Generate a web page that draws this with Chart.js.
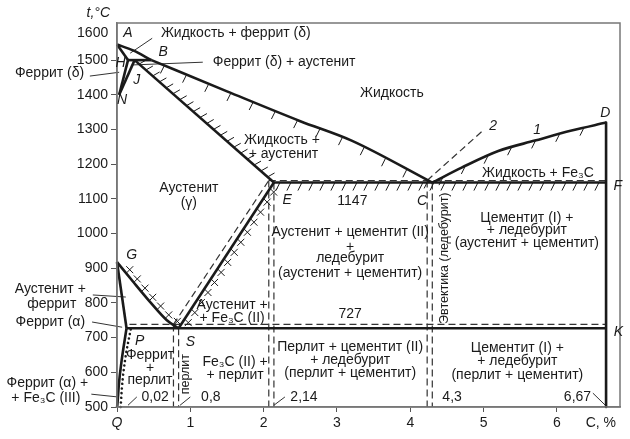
<!DOCTYPE html>
<html><head><meta charset="utf-8">
<script src="https://cdn.jsdelivr.net/npm/chart.js@4/dist/chart.umd.min.js"></script>
<style>html,body{margin:0;padding:0;background:#fff}</style>
</head><body>
<canvas id="c" width="630" height="439"></canvas>
<script>
// ---- axis ticks ----
const xTickValues = [0, 1, 2, 3, 4, 5, 6];
const xTickLabels = ['Q', '1', '2', '3', '4', '5', '6'];
const yTickValues = [500, 600, 700, 800, 900, 1000, 1100, 1200, 1300, 1400, 1500];

// ---- phase lines: [C, %  ,  t, °C] ----
const lineAB  = [[0, 1545], [0.22, 1528], [0.47, 1500]];
const lineBC  = [[0.47, 1500], [1.5, 1410], [2.5, 1324], [3.2, 1268], [4.3, 1147]];
const lineAH  = [[0, 1545], [0.15, 1500]];
const lineHB  = [[0.15, 1500], [0.47, 1500]];
const lineHN  = [[0.15, 1500], [0.03, 1400]];
const lineJN  = [[0.24, 1500], [0.03, 1400]];
const lineJE  = [[0.24, 1500], [2.14, 1147]];
const lineECF = [[2.14, 1147], [6.67, 1147]];
const lineCD  = [[4.3, 1147], [4.7, 1190], [5.2, 1238], [5.7, 1268], [6.2, 1297], [6.67, 1320]];
const lineDK  = [[6.67, 1320], [6.67, 500]];
const lineGS  = [[0, 918], [0.22, 861], [0.45, 803], [0.68, 750], [0.84, 727]];
const lineGP  = [[0, 918], [0.13, 727]];
const linePSK = [[0.13, 727], [6.67, 727]];
const lineSE  = [[0.84, 727], [2.14, 1147]];
const linePQ  = [[0, 500], [0.004, 505], [0.027, 569], [0.064, 635], [0.13, 727]];
const dotsPQ  = [[0.05, 500], [0.068, 558], [0.11, 635], [0.19, 727]];

// ---- dashed lines (stable Fe–graphite system) ----
const dashSE  = [[0.77, 738], [2.07, 1153]];
const dashPK  = [[0.17, 738], [6.67, 738]];
const dashEF  = [[2.07, 1153], [6.67, 1153]];
const dashCD2 = [[4.23, 1153], [4.98, 1295]];
const dashVertC   = [0.77, 0.84, 2.07, 2.14, 4.23, 4.3];
const dashVertTop = [738, 727, 1153, 1147, 1153, 1147];

// ---- leader lines ----
const leaders = [
  [[0.48, 1563], [0.18, 1520]],
  [[1.17, 1494], [0.2, 1486]],
  [[-0.37, 1454], [0.03, 1465]],
  [[-0.33, 823], [0.12, 817]],
  [[-0.34, 745], [0.07, 730]],
  [[-0.35, 537], [0.01, 529]],
  [[0.15, 505], [0.27, 529]],
  [[0.86, 505], [1.0, 529]],
  [[2.14, 505], [2.29, 529]],
  [[6.49, 540], [6.66, 505]]
];

// ---- texts: [text, C %, t °C, kind] ----
const texts = [
  ['1600', -0.12, 1578, 'tickR'],
  ['Жидкость + феррит (δ)', 1.62, 1578],
  ['Феррит (δ) + аустенит', 2.28, 1494],
  ['Феррит (δ)', -0.92, 1463],
  ['Жидкость', 3.75, 1405],
  ['Жидкость +', 2.25, 1269],
  ['+ аустенит', 2.27, 1229],
  ['Аустенит', 0.98, 1131],
  ['(γ)', 0.98, 1088],
  ['1147', 3.21, 1094],
  ['Жидкость + Fe₃C', 5.74, 1174],
  ['Цементит (I) +', 5.59, 1045],
  ['+ ледебурит', 5.59, 1010],
  ['(аустенит + цементит)', 5.59, 973],
  ['Аустенит + цементит (II)', 3.18, 1004],
  ['+', 3.18, 961],
  ['ледебурит', 3.18, 929],
  ['(аустенит + цементит)', 3.18, 886],
  ['Эвтектика (ледебурит)', 4.47, 929, 'rot'],
  ['727', 3.18, 768],
  ['Перлит + цементит (II)', 3.18, 673],
  ['+ ледебурит', 3.18, 635],
  ['(перлит + цементит)', 3.18, 598],
  ['Цементит (I) +', 5.46, 670],
  ['+ ледебурит', 5.46, 633],
  ['(перлит + цементит)', 5.46, 592],
  ['Fe₃C (II) +', 1.61, 630],
  ['+ перлит', 1.61, 592],
  ['Аустенит +', 1.57, 794],
  ['+ Fe₃C (II)', 1.57, 756],
  ['Феррит', 0.45, 650],
  ['+', 0.45, 612],
  ['перлит', 0.45, 578],
  ['перлит', 0.94, 595, 'rot'],
  ['0,02', 0.52, 529],
  ['0,8', 1.28, 529],
  ['2,14', 2.55, 529],
  ['4,3', 4.57, 529],
  ['6,67', 6.28, 529],
  ['Аустенит +', -0.91, 840],
  ['феррит', -0.89, 797],
  ['Феррит (α)', -0.91, 745],
  ['Феррит (α) +', -0.95, 569],
  ['+ Fe₃C (III)', -0.97, 526],
  ['A', 0.15, 1578, 'it'],
  ['B', 0.63, 1523, 'it'],
  ['H', 0.05, 1491, 'it'],
  ['J', 0.27, 1442, 'it'],
  ['N', 0.07, 1385, 'it'],
  ['E', 2.32, 1097, 'it'],
  ['C', 4.16, 1094, 'it'],
  ['F', 6.83, 1137, 'it'],
  ['D', 6.66, 1347, 'it'],
  ['K', 6.84, 716, 'it'],
  ['G', 0.2, 938, 'it'],
  ['P', 0.31, 690, 'it'],
  ['S', 1.0, 687, 'it'],
  ['1', 5.73, 1298, 'it'],
  ['2', 5.13, 1310, 'it']
];

// ---- build datasets ----
const FAM = "'Liberation Sans', Arial, Helvetica, sans-serif";
const INK = '#1a1a1a';
const toXY = arr => arr.map(p => ({ x: p[0], y: p[1] }));
const ds = [];
function add(pts, o) {
  ds.push(Object.assign({ data: toXY(pts), showLine: true, pointRadius: 0, borderColor: INK,
    borderWidth: 2.6, fill: false, clip: false, borderCapStyle: 'butt', borderJoinStyle: 'round' }, o || {}));
}
const solidStraight = [lineAH, lineHB, lineHN, lineJN, lineJE, lineECF, lineDK, lineGP, linePSK, lineSE];
solidStraight.forEach(l => add(l));
[lineAB, lineBC, lineCD, lineGS, linePQ].forEach(l => add(l, { cubicInterpolationMode: 'monotone' }));
add(dotsPQ, { borderWidth: 2.6, borderDash: [0.01, 4.6], borderCapStyle: 'round', cubicInterpolationMode: 'monotone' });
const dashStyle = { borderWidth: 1.2, borderDash: [7, 4], borderColor: '#333' };
[dashSE, dashPK, dashEF, dashCD2].forEach(l => add(l, dashStyle));
dashVertC.forEach((c, i) => add([[c, dashVertTop[i]], [c, 500]], dashStyle));
leaders.forEach(l => add(l, { borderWidth: 1, borderColor: '#333' }));

// ---- decorations: hatching and crosses along lines ----
const hatches = [
  { line: lineBC, step: 24, start: 14, vec: [-4, 8] },
  { line: lineJE, step: 9, start: 6, vec: [7, -4] },
  { line: lineECF, step: 11, start: 6, vec: [-4, 8] },
  { line: lineCD, step: 25, start: 12, vec: [-4, 8] }
];
const crosses = [
  { line: lineGS, step: 12, start: 14, side: -1 },
  { line: lineSE, step: 12, start: 10, side: 1 }
];

function pixPts(chart, line) {
  const xs = chart.scales.x, ys = chart.scales.y;
  return line.map(p => [xs.getPixelForValue(p[0]), ys.getPixelForValue(p[1])]);
}
function walk(pts, start, step, cb) {
  let d = start;
  let acc = 0;
  for (let i = 0; i < pts.length - 1; i++) {
    const [x0, y0] = pts[i], [x1, y1] = pts[i + 1];
    const L = Math.hypot(x1 - x0, y1 - y0);
    while (d <= acc + L) {
      const t = (d - acc) / L;
      cb(x0 + (x1 - x0) * t, y0 + (y1 - y0) * t, (x1 - x0) / L, (y1 - y0) / L);
      d += step;
    }
    acc += L;
  }
}

const decor = {
  id: 'decor',
  afterDatasetsDraw(chart) {
    const c = chart.ctx, a = chart.chartArea, xs = chart.scales.x, ys = chart.scales.y;
    c.save();
    // frame
    c.strokeStyle = '#777'; c.lineWidth = 1.5;
    c.strokeRect(a.left, a.top, a.right - a.left, a.bottom - a.top);
    // hatches
    c.strokeStyle = INK; c.lineWidth = 1;
    hatches.forEach(h => {
      const pts = pixPts(chart, h.line);
      walk(pts, h.start, h.step, (x, y) => {
        c.beginPath(); c.moveTo(x, y); c.lineTo(x + h.vec[0], y + h.vec[1]); c.stroke();
      });
    });
    crosses.forEach(h => {
      const pts = pixPts(chart, h.line);
      walk(pts, h.start, h.step, (x, y, ux, uy) => {
        const nx = -uy * h.side * 5, ny = ux * h.side * 5;
        const cx = x + nx, cy = y + ny, r = 3.5;
        c.beginPath();
        c.moveTo(cx - r, cy - r); c.lineTo(cx + r, cy + r);
        c.moveTo(cx - r, cy + r); c.lineTo(cx + r, cy - r);
        c.stroke();
      });
    });
    // texts
    c.fillStyle = INK; c.textBaseline = 'middle';
    texts.forEach(t => {
      const [s, cx, ty, kind] = t;
      const px = xs.getPixelForValue(cx), py = ys.getPixelForValue(ty);
      c.font = (kind === 'it' ? 'italic ' : '') + (kind === 'rot' ? '12.5px ' : '14px ') + FAM;
      if (kind === 'rot') {
        c.save(); c.translate(px, py); c.rotate(-Math.PI / 2);
        c.textAlign = 'center'; c.fillText(s, 0, 0); c.restore();
      } else {
        c.textAlign = kind === 'tickR' ? 'right' : 'center';
        c.fillText(s, px, py);
      }
    });
    // axis titles
    c.font = 'italic 14px ' + FAM; c.textAlign = 'right';
    c.fillText('t,°C', a.left - 7, 13);
    c.font = '14px ' + FAM;
    c.fillText('C, %', a.right - 4, a.bottom + 16);
    c.restore();
  }
};

new Chart(document.getElementById('c'), {
  type: 'scatter',
  data: { datasets: ds },
  options: {
    responsive: false, animation: false, devicePixelRatio: 1,
    layout: { padding: { top: 23, right: 10, left: 0, bottom: 0 } },
    plugins: { legend: { display: false }, tooltip: { enabled: false } },
    scales: {
      x: {
        type: 'linear', min: 0, max: 6.86,
        afterBuildTicks: s => { s.ticks = xTickValues.map(v => ({ value: v })); },
        afterFit: s => { s.height = 32; },
        ticks: {
          autoSkip: false, maxRotation: 0, padding: 3, color: INK,
          callback: (v, i) => xTickLabels[i],
          font: ctx => ({ family: FAM, size: 14, style: (ctx.tick && ctx.tick.value === 0) ? 'italic' : 'normal' })
        },
        grid: { drawOnChartArea: false, drawTicks: true, tickLength: 5, tickColor: '#555', tickWidth: 1 },
        border: { display: true, color: '#777', width: 1.5 }
      },
      y: {
        type: 'linear', min: 500, max: 1607,
        afterBuildTicks: s => { s.ticks = yTickValues.map(v => ({ value: v })); },
        afterFit: s => { s.width = 117; },
        ticks: { autoSkip: false, padding: 3, color: INK, font: { family: FAM, size: 14 }, callback: v => String(v) },
        grid: { drawOnChartArea: false, drawTicks: true, tickLength: 6, tickColor: '#555', tickWidth: 1 },
        border: { display: true, color: '#777', width: 1.5 }
      }
    }
  },
  plugins: [decor]
});
</script>
</body></html>
